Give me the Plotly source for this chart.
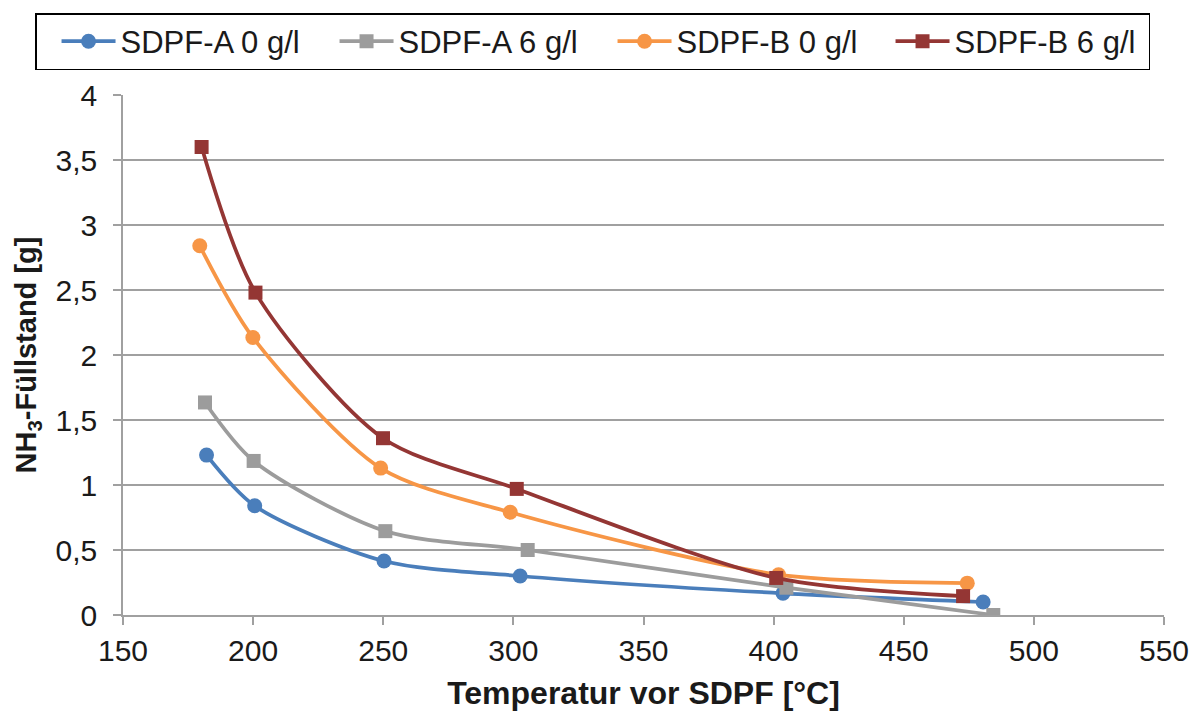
import plotly.graph_objects as go

# Measured NH3 fill levels over SDPF inlet temperature
names = ["SDPF-A 0 g/l", "SDPF-A 6 g/l", "SDPF-B 0 g/l", "SDPF-B 6 g/l"]

temp_a0 = [182.1, 200.6, 250.3, 302.6, 403.6, 480.5]
nh3_a0 = [1.23, 0.84, 0.415, 0.30, 0.167, 0.10]

temp_a6 = [181.5, 200.2, 250.8, 305.5, 404.9, 484.4]
nh3_a6 = [1.635, 1.185, 0.645, 0.50, 0.21, 0.0]

temp_b0 = [179.5, 199.9, 249.0, 298.8, 401.9, 474.4]
nh3_b0 = [2.84, 2.135, 1.13, 0.79, 0.31, 0.245]

temp_b6 = [180.2, 200.9, 249.9, 301.3, 401.0, 472.8]
nh3_b6 = [3.60, 2.48, 1.36, 0.97, 0.285, 0.145]

colors = ["#4A7EBB", "#9C9C9C", "#F79646", "#943634"]
symbols = ["circle", "square", "circle", "square"]

series = [
    (temp_a0, nh3_a0),
    (temp_a6, nh3_a6),
    (temp_b0, nh3_b0),
    (temp_b6, nh3_b6),
]

fig = go.Figure()
for name, (xs, ys), col, sym in zip(names, series, colors, symbols):
    fig.add_trace(go.Scatter(
        x=xs, y=ys, name=name,
        mode="lines+markers",
        line=dict(color=col, width=3.75, shape="spline", smoothing=0.8),
        marker=dict(color=col, symbol=sym, size=15 if sym == "circle" else 14,
                    line=dict(width=0)),
    ))

font_family = "Liberation Sans, Arial, sans-serif"
text_col = "#1a1a1a"
axis_col = "#A0A0A0"

fig.update_layout(
    template="none",
    width=1200, height=713,
    margin=dict(l=123, r=36, t=95, b=98),
    paper_bgcolor="white", plot_bgcolor="white",
    separators=",.",
    font=dict(family=font_family, size=30, color=text_col),
    showlegend=True,
    legend=dict(
        orientation="h",
        x=-0.0845, xref="paper", xanchor="left",
        y=1.048, yref="paper", yanchor="bottom",
        bordercolor="#000000", borderwidth=1.5,
        bgcolor="white",
        font=dict(size=31, color=text_col),
        entrywidth=189, entrywidthmode="pixels",
        itemwidth=54, indentation=20,
        tracegroupgap=0,
    ),
    xaxis=dict(
        range=[150, 550], dtick=50, tick0=150,
        automargin=False,
        showgrid=False, zeroline=False,
        showline=True, linecolor=axis_col, linewidth=1.5,
        ticks="outside", ticklen=8, tickcolor=axis_col, tickwidth=1.5,
        tickfont=dict(size=30, color=text_col),
        title=dict(text="<b>Temperatur vor SDPF [°C]</b>",
                   font=dict(size=32, color=text_col), standoff=16),
    ),
    yaxis=dict(
        range=[0, 4], dtick=0.5, tick0=0,
        automargin=False,
        showgrid=True, gridcolor=axis_col, gridwidth=1.5,
        zeroline=False,
        showline=True, linecolor=axis_col, linewidth=1.5,
        ticks="outside", ticklen=8, tickcolor=axis_col, tickwidth=1.5,
        ticklabelstandoff=10,
        tickfont=dict(size=30, color=text_col),
        title=dict(text="<b>NH<sub>3</sub>-Füllstand [g]</b>",
                   font=dict(size=29, color=text_col), standoff=10),
    ),
)

fig.write_html("out.html")
